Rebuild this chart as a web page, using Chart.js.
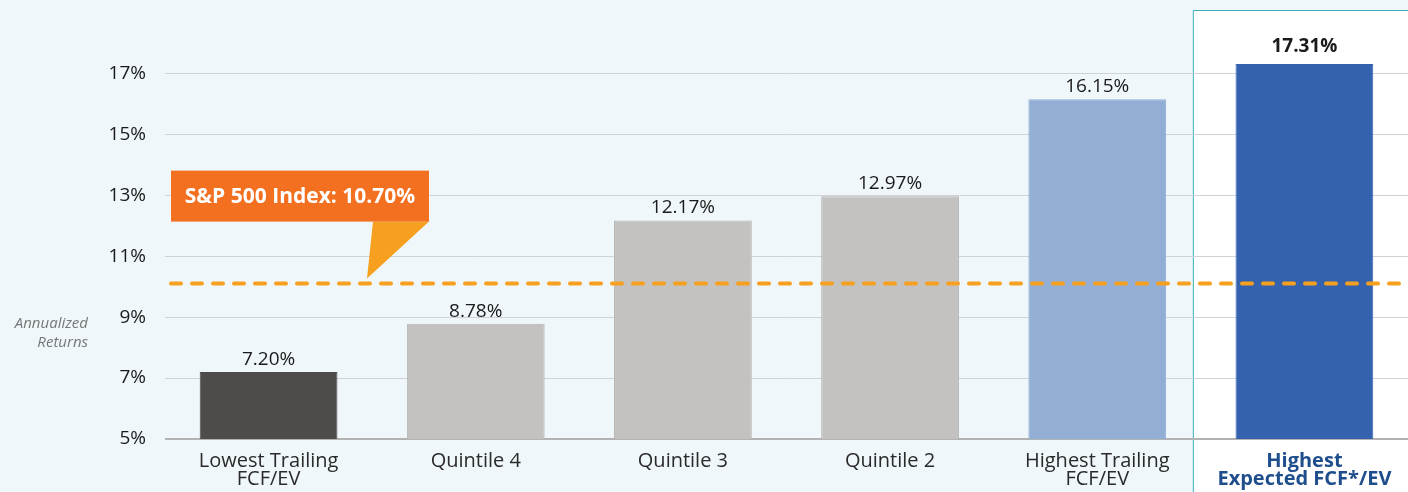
<!DOCTYPE html>
<html>
<head>
<meta charset="utf-8">
<script src="https://cdn.jsdelivr.net/npm/chart.js@4.4.1/dist/chart.umd.min.js"></script>
<style>
  html, body { margin: 0; padding: 0; background: #eff7fb; overflow: hidden; }
  #wrap { width: 1408px; height: 492px; }
</style>
</head>
<body>
<div id="wrap"><canvas id="fcfChart" width="1408" height="492"></canvas></div>
<script>
// categories and values
const categories = [
  ["Lowest Trailing", "FCF/EV"],
  "Quintile 4",
  "Quintile 3",
  "Quintile 2",
  ["Highest Trailing", "FCF/EV"],
  ["Highest", "Expected FCF*/EV"]
];
const returns = [7.20, 8.78, 12.17, 12.97, 16.15, 17.31];
const returnLabels = ["7.20%", "8.78%", "12.17%", "12.97%", "16.15%", "17.31%"];
const barColors = ["#4f4b4a", "#c4c2c0", "#c4c2c0", "#c4c2c0", "#92aed4", "#3462ae"];
const yTicks = [5, 7, 9, 11, 13, 15, 17];
const sp500Line = 10.1;               // where the dashed line sits in the picture
const sp500Text = "S&P 500 Index: 10.70%";

const FONT = "'Open Sans', Roboto, sans-serif";

const decor = {
  id: "decor",
  beforeDraw(chart) {
    const { ctx, scales: { x } } = chart;
    ctx.save();
    ctx.fillStyle = "#eff7fb";
    ctx.fillRect(0, 0, chart.width, chart.height);
    // white highlight panel behind the last category
    const px = (x.getPixelForValue(4) + x.getPixelForValue(5)) / 2 - 8;
    const top = 10;
    ctx.fillStyle = "#ffffff";
    ctx.fillRect(px, top, chart.width - px, chart.height - top);
    ctx.strokeStyle = "#35b0bf";
    ctx.lineWidth = 1;
    ctx.beginPath();
    ctx.moveTo(px + 0.5, chart.height);
    ctx.lineTo(px + 0.5, top + 0.5);
    ctx.lineTo(chart.width, top + 0.5);
    ctx.stroke();
    ctx.restore();
  },
  afterDatasetsDraw(chart) {
    const { ctx, chartArea, scales: { y } } = chart;
    const meta = chart.getDatasetMeta(0);
    ctx.save();
    // value labels
    ctx.textAlign = "center";
    ctx.textBaseline = "bottom";
    ctx.fillStyle = "#1a1a1a";
    meta.data.forEach((bar, i) => {
      const hi = i === 5;
      ctx.font = (hi ? "bold " : "") + "19px " + FONT;
      ctx.fillText(returnLabels[i], bar.x, bar.y - (hi ? 8 : 3));
    });

    // S&P dashed line
    const ly = y.getPixelForValue(sp500Line);
    ctx.strokeStyle = "#f7a01f";
    ctx.lineWidth = 4;
    ctx.lineCap = "round";
    ctx.setLineDash([10, 11]);
    ctx.beginPath();
    ctx.moveTo(chartArea.left + 6, ly);
    ctx.lineTo(chart.width + 10, ly);
    ctx.stroke();
    ctx.setLineDash([]);

    // callout
    const bx = chartArea.left + 6, bw = 258, bh = 51;
    const by = ly - 113;
    ctx.fillStyle = "#f7a01f";
    ctx.beginPath();
    ctx.moveTo(bx + 202, by + bh);
    ctx.lineTo(bx + bw, by + bh);
    ctx.lineTo(bx + 196, ly - 5);
    ctx.closePath();
    ctx.fill();
    ctx.fillStyle = "#f37021";
    ctx.fillRect(bx, by, bw, bh);
    ctx.fillStyle = "#ffffff";
    ctx.font = "bold 21px " + FONT;
    ctx.textAlign = "center";
    ctx.textBaseline = "middle";
    ctx.fillText(sp500Text, bx + bw / 2, by + bh / 2 + 1);

    // axis caption
    ctx.fillStyle = "#777777";
    ctx.font = "italic 15px " + FONT;
    ctx.textAlign = "right";
    ctx.textBaseline = "middle";
    ctx.fillText("Annualized", 88, 324);
    ctx.fillText("Returns", 88, 343);
    ctx.restore();
  }
};

new Chart(document.getElementById("fcfChart"), {
  type: "bar",
  data: {
    labels: categories,
    datasets: [{
      data: returns,
      backgroundColor: barColors,
      borderColor: barColors.map(c => c === "#c4c2c0" ? "#b7b5b3" : c),
      borderWidth: 1,
      barPercentage: 0.665,
      categoryPercentage: 1
    }]
  },
  options: {
    responsive: false,
    animation: false,
    layout: { padding: 0 },
    plugins: { legend: { display: false }, tooltip: { enabled: false } },
    scales: {
      x: {
        grid: { display: false },
        border: { display: false },
        afterFit(scale) { scale.height = 53; },
        ticks: {
          padding: 6,
          maxRotation: 0,
          autoSkip: false,
          color: ctx => ctx.index === 5 ? "#1f4e8c" : "#2a2a2a",
          font: ctx => ({
            family: FONT,
            size: 20,
            weight: ctx.index === 5 ? "bold" : "normal",
            lineHeight: 0.87
          })
        }
      },
      y: {
        min: 5,
        max: 18.41,
        afterFit(scale) { scale.width = 165; },
        afterBuildTicks(scale) {
          scale.ticks = yTicks.map(v => ({ value: v }));
        },
        border: { display: false },
        grid: {
          drawTicks: false,
          color: ctx => ctx.tick && ctx.tick.value === 5 ? "#b3b3b3" : "#cfd3d8",
          lineWidth: ctx => ctx.tick && ctx.tick.value === 5 ? 2 : 1
        },
        ticks: {
          padding: 19,
          color: "#1a1a1a",
          font: { family: FONT, size: 19 },
          callback: v => v + "%"
        }
      }
    }
  },
  plugins: [decor]
});
</script>
</body>
</html>
